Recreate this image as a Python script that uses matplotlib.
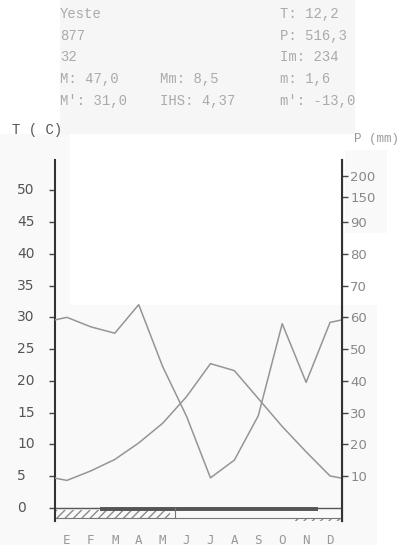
import numpy as np
import matplotlib
matplotlib.use("Agg")
import matplotlib.pyplot as plt
from matplotlib.patches import Rectangle
from matplotlib import transforms

# climate data (Yeste)
months = ['E', 'F', 'M', 'A', 'M', 'J', 'J', 'A', 'S', 'O', 'N', 'D']
temp = [4.3, 5.8, 7.6, 10.2, 13.3, 17.5, 22.7, 21.6, 17.2, 12.8, 8.8, 5.0]
prec = [60.0, 57.0, 55.0, 64.0, 44.5, 28.8, 9.4, 15.0, 29.0, 58.0, 39.5, 58.4]

t_ticks = [0, 5, 10, 15, 20, 25, 30, 35, 40, 45, 50]
p_ticks = [10, 20, 30, 40, 50, 60, 70, 80, 90, 150, 200]

# frost periods (month units)
frost_sure = (1.9, 11.0)
frost_prob_start = (0.0, 4.8)
frost_prob_end = (9.9, 12.0)

info_left = ['Yeste', '877', '32', 'M: 47,0', "M': 31,0"]
info_mid = ['', '', '', 'Mm: 8,5', 'IHS: 4,37']
info_right = ['T: 12,2', 'P: 516,3', 'Im: 234', 'm: 1,6', "m': -13,0"]

W, H = 412, 549
fig = plt.figure(figsize=(W / 100, H / 100), dpi=100)
fig.patch.set_facecolor('white')

def fx(px):
    return px / W

def fy(py):
    return 1 - py / H

# faint shades of the scanned paper
for x0, y0, x1, y1, c in [(60, 0, 355, 134, '#f6f6f6'),
                          (0, 134, 70, 545, '#f9f9f9'),
                          (70, 305, 377, 545, '#f9f9f9'),
                          (345, 150, 387, 233, '#f9f9f9')]:
    fig.add_artist(Rectangle((fx(x0), fy(y1)), fx(x1) - fx(x0), fy(y0) - fy(y1),
                             transform=fig.transFigure, facecolor=c,
                             edgecolor='none', zorder=0))

ax = fig.add_axes([fx(55), fy(521), fx(342) - fx(55), fy(160) - fy(521)])
ax.set_facecolor('none')
ax.set_xlim(0, 12)
ax.set_ylim(-2.1, 54.8)

def p2t(p):
    p = np.asarray(p, dtype=float)
    return np.where(p <= 90, p / 2, 45 + (p - 90) / 15)

xm = np.arange(12) + 0.5
x_line = np.concatenate([[0], xm, [12]])
t_edge = (temp[0] + temp[-1]) / 2
p_edge = (prec[0] + prec[-1]) / 2
t_line = np.concatenate([[t_edge], temp, [t_edge]])
p_line = p2t(np.concatenate([[p_edge], prec, [p_edge]]))

ax.plot(x_line, t_line, color='#959595', lw=1.1, zorder=3)
ax.plot(x_line, p_line, color='#959595', lw=1.1, zorder=3)

# frost band below zero
ax.axhline(0, color='#555555', lw=1.0)
ax.axhline(-1.6, color='#777777', lw=0.8)
ax.add_patch(Rectangle((frost_prob_start[0], -1.6), frost_prob_start[1] - frost_prob_start[0], 1.3,
                       facecolor='none', edgecolor='#8a8a8a', hatch='////', lw=0))
ax.add_patch(Rectangle((frost_prob_end[0], -2.1), frost_prob_end[1] - frost_prob_end[0], 0.5,
                       facecolor='none', edgecolor='#8a8a8a', hatch='////', lw=0))
ax.plot(frost_sure, [-0.25, -0.25], color='#555555', lw=2.8, solid_capstyle='butt')
ax.plot([5, 5], [0, -1.7], color='#777777', lw=0.8)

for s in ['top', 'bottom']:
    ax.spines[s].set_visible(False)
ax.spines['left'].set_color('#333333')
ax.spines['left'].set_linewidth(1.5)

ax.set_xticks(xm)
ax.set_xticklabels(months, family='DejaVu Sans Mono', fontsize=9, color='#999999')
ax.tick_params(axis='x', length=0, pad=9)

ax.set_yticks(t_ticks)
ax.set_yticklabels([])
ax.tick_params(axis='y', direction='out', length=4, color='#444444', width=1)
tr = transforms.blended_transform_factory(fig.transFigure, ax.transData)
for t in t_ticks:
    ax.text(fx(17), t, str(t), transform=tr, ha='left', va='center',
            fontsize=10, color='#555555')

ax2 = ax.twinx()
ax2.set_ylim(ax.get_ylim())
ax2.set_facecolor('none')
for s in ['top', 'bottom', 'left']:
    ax2.spines[s].set_visible(False)
ax2.spines['right'].set_color('#333333')
ax2.spines['right'].set_linewidth(1.5)
ax2.set_yticks(p2t(p_ticks))
ax2.set_yticklabels([str(p) for p in p_ticks], fontsize=9.5, color='#888888')
ax2.tick_params(axis='y', direction='out', length=4, color='#444444', width=1, pad=2)

# header text block
rows_y = [14, 36, 57, 79, 101]
for i, yy in enumerate(rows_y):
    for xx, col in [(60, info_left), (160, info_mid), (280, info_right)]:
        fig.text(fx(xx), fy(yy), col[i], family='Liberation Mono', fontsize=10,
                 color='#aaaaaa', ha='left', va='center')

fig.text(fx(12), fy(130), 'T ( C)', family='Liberation Mono', fontsize=10,
         color='#555555', ha='left', va='center')
fig.text(fx(354), fy(139), 'P (mm)', family='Liberation Mono', fontsize=9,
         color='#999999', ha='left', va='center')

fig.savefig('out.png', dpi=100)
